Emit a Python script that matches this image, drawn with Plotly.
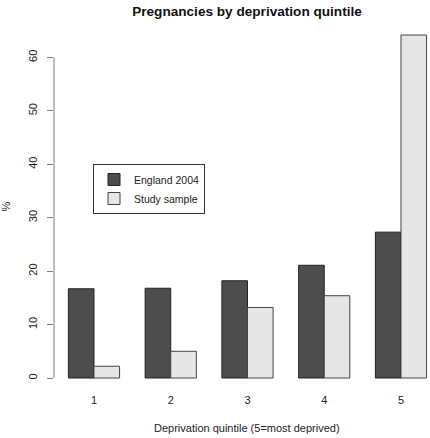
import plotly.graph_objects as go

categories = ["1", "2", "3", "4", "5"]
england_2004 = [16.7, 16.8, 18.2, 21.1, 27.3]
study_sample = [2.2, 5.0, 13.2, 15.4, 64.2]
y_ticks = [0, 10, 20, 30, 40, 50, 60]

font_family = "Liberation Sans, Arial, sans-serif"
text_col = "#222222"
axis_col = "#7f7f7f"

fig = go.Figure()
fig.add_trace(go.Bar(
    x=categories, y=england_2004, name="England 2004",
    marker=dict(color="#4d4d4d", line=dict(color="#222222", width=1)),
))
fig.add_trace(go.Bar(
    x=categories, y=study_sample, name="Study sample",
    marker=dict(color="#e6e6e6", line=dict(color="#444444", width=1)),
))

W, H = 430, 438
ml, mr, mt, mb = 54, 0, 21, 46
fig.update_layout(
    template="none",
    width=W, height=H,
    margin=dict(l=ml, r=mr, t=mt, b=mb),
    paper_bgcolor="white", plot_bgcolor="white",
    barmode="group", bargap=0.333, bargroupgap=0,
    font=dict(family=font_family, size=11, color=text_col),
    title=dict(text="<b>Pregnancies by deprivation quintile</b>",
               x=247 / W, xref="container", xanchor="center",
               y=1 - 11 / H, yref="container", yanchor="middle",
               font=dict(size=13.6, color="#111111")),
    showlegend=True,
    legend=dict(x=(93 - ml) / (W - ml - mr), y=1 - (164 - mt) / (H - mt - mb),
                xanchor="left", yanchor="top",
                bgcolor="white", bordercolor="#333333", borderwidth=1,
                font=dict(size=10.5, color=text_col),
                traceorder="normal", itemwidth=30, tracegroupgap=0),
    xaxis=dict(type="category", range=[-0.521, 4.378],
               showline=False, showgrid=False, zeroline=False, ticks="",
               tickfont=dict(size=11, color=text_col)),
    yaxis=dict(range=[-2.62, 66.82], tickvals=y_ticks,
               ticktext=[str(v) for v in y_ticks],
               showline=False, showgrid=False, zeroline=False,
               ticks="outside", ticklen=6, tickcolor=axis_col, tickwidth=1,
               tickangle=-90, ticklabelstandoff=6,
               tickfont=dict(size=11, color=text_col),
               title=dict(text="%", standoff=18, font=dict(size=11, color=text_col))),
)

# R-style y axis line spanning only the tick range
fig.add_shape(type="line", xref="paper", yref="y",
              x0=0, x1=0, y0=y_ticks[0], y1=y_ticks[-1],
              line=dict(color=axis_col, width=1))

fig.add_annotation(text="Deprivation quintile (5=most deprived)",
                   xref="paper", yref="paper",
                   x=(247 - ml) / (W - ml - mr), y=-(428 - (H - mb)) / (H - mt - mb),
                   xanchor="center", yanchor="middle", showarrow=False,
                   font=dict(size=11, color=text_col))

fig.write_html("out.html", config={"displayModeBar": False},
               post_script="document.body.style.margin='0';document.body.style.overflow='hidden';")
